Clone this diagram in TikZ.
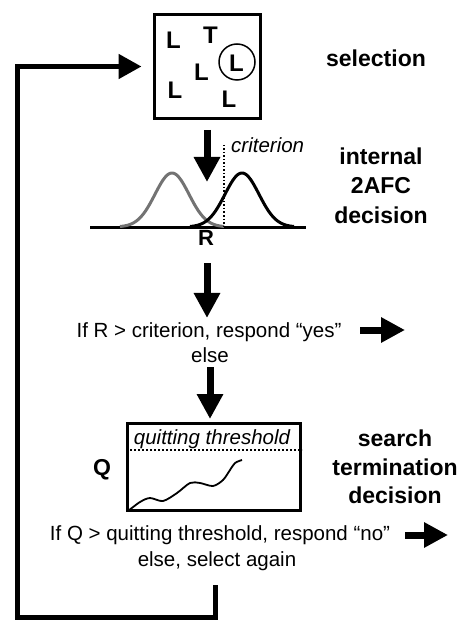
\documentclass[tikz,border=0pt]{standalone}
\usepackage{fontspec}
\setmainfont{Liberation Sans}
\usetikzlibrary{arrows.meta}
\begin{document}
\begin{tikzpicture}[x=1pt,y=-1pt,
  blockarrow/.style={line width=7pt,-{Triangle[length=25pt,width=25pt]}},
  smallarrow/.style={line width=7pt,-{Triangle[length=24pt,width=24pt]}},
  looparrow/.style={line width=5pt,-{Triangle[length=23pt,width=24pt]}},
  letter/.style={font=\fontsize{24}{24}\selectfont\bfseries,inner sep=0pt,anchor=base},
  biglabel/.style={font=\fontsize{23}{23}\selectfont\bfseries,inner sep=0pt,anchor=base},
  txt/.style={font=\fontsize{20.5}{20.5}\selectfont,inner sep=0pt,anchor=base},
  itxt/.style={font=\fontsize{20.5}{20.5}\selectfont\itshape,inner sep=0pt,anchor=base},
  dots/.style={line width=2pt,dash pattern=on 2pt off 2pt},
  framebox/.style={draw,line width=3pt,inner sep=0pt},
]
\useasboundingbox (0,0) rectangle (460,620);

% selection box
\node[framebox,minimum width=106pt,minimum height=104pt] (selbox) at (207.5,66.5) {};
\node[letter] (l1) at (173.5,49) {L};
\node[letter] (t1) at (210.5,44) {T};
\node[letter] (lc) at (236.5,72) {L};
\node[draw,circle,line width=1.5pt,minimum size=36pt,inner sep=0pt] (circ) at (237,62) {};
\node[letter] (l2) at (201.5,81) {L};
\node[letter] (l3) at (175,99) {L};
\node[letter] (l4) at (229,108) {L};
\node[biglabel] (sel) at (376,67) {selection};

% arrow to decision
\coordinate (dec) at (207,182);
\draw[blockarrow,shorten <=10pt] (selbox.south -| dec) -- (dec);

% gaussians
\draw[line width=3pt] (90,227) -- (306,227);
\draw[line width=3pt,black!55] plot[domain=120:224,samples=80,smooth] (\x,{227-54*exp(-0.5*((\x-172)/17)^2)});
\draw[line width=3pt] plot[domain=190:294,samples=80,smooth] (\x,{227-54*exp(-0.5*((\x-242)/17)^2)});
\draw[line width=1.5pt,dash pattern=on 1.5pt off 2pt] (224,145) -- (224,227);
\node[itxt,anchor=base west] (crit) at (231,153) {criterion};
\node[biglabel,font=\fontsize{22}{22}\selectfont\bfseries] (R) at (206,245) {R};
\node[biglabel] (int1) at (381,165) {internal};
\node[biglabel] (int2) at (381,194) {2AFC};
\node[biglabel] (int3) at (381,223) {decision};

% yes branch
\node[txt] (ifR) at (209,337) {If R > criterion, respond “yes”};
\draw[blockarrow,shorten <=18pt,shorten >=4pt] (R.south -| dec) -- (dec |- ifR.north);
\coordinate (yesstart) at (360,330);
\coordinate (yesend) at (405,330);
\draw[smallarrow] (yesstart) -- (yesend);
\node[txt] (else) at (210,362) {else};

% quitting box
\node[framebox,minimum width=173pt,minimum height=87pt] (qbox) at (214,467) {};
\draw[blockarrow,shorten <=5pt,shorten >=3pt] (else.south) -- (else.south |- qbox.north);
\draw[dots] ([yshift=17pt]qbox.west) -- ([yshift=17pt]qbox.east);
\node[itxt] (qt) at (212,444) {quitting threshold};
\draw[line width=1.8pt,line join=round] plot[smooth] coordinates {(128,511) (140,502) (150,498) (163,501) (177,493) (190,483) (200,483) (213,486) (223,480) (230,470) (235,463) (242,460)};
\node[biglabel] (Q) at (102,475) {Q};
\node[biglabel] (st1) at (395,446) {search};
\node[biglabel] (st2) at (395,475) {termination};
\node[biglabel] (st3) at (395,503) {decision};

% no branch
\node[txt] (ifQ) at (220,540) {If Q > quitting threshold, respond “no”};
\coordinate (nostart) at (405,535);
\coordinate (noend) at (448,535);
\draw[smallarrow] (nostart) -- (noend);
\node[txt] (elsesel) at (217,566) {else, select again};

% loop back
\coordinate (loopstart) at (215,585);
\coordinate (loopcorner) at (17,617);
\draw[looparrow,shorten >=11.5pt] (loopstart) |- (loopcorner) |- (selbox.west);
\end{tikzpicture}
\end{document}
